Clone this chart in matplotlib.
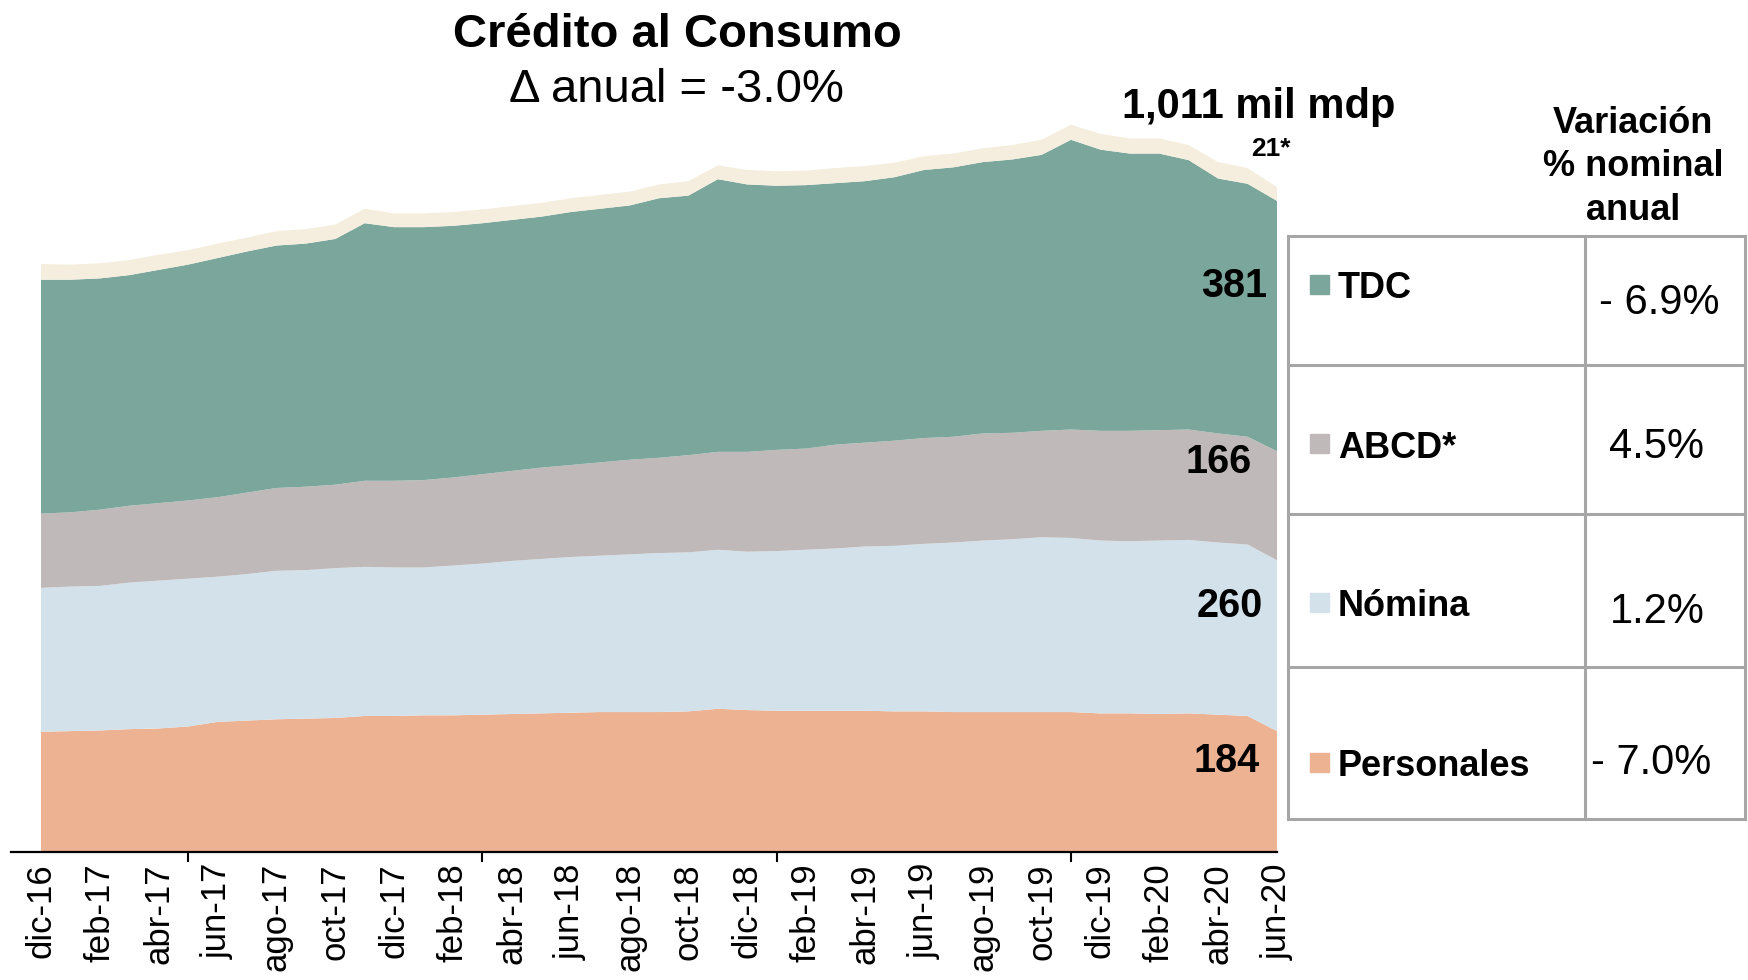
import matplotlib
matplotlib.use("Agg")
import matplotlib.pyplot as plt
from matplotlib.lines import Line2D
from matplotlib.patches import Rectangle

plt.rcParams["font.family"] = ["Liberation Sans", "DejaVu Sans"]

# meses dic-16 .. jun-20
meses_abr = ["ene", "feb", "mar", "abr", "may", "jun", "jul", "ago", "sep", "oct", "nov", "dic"]
etiquetas = ["dic-16"] + [f"{meses_abr[m]}-{a}" for a in (17, 18, 19) for m in range(12)] \
    + [f"{meses_abr[m]}-20" for m in range(6)]

# miles de millones de pesos
personales = [183, 184, 185, 187, 188, 191, 198, 200, 202, 203, 204, 207, 207, 208, 208, 209, 210, 211, 212, 213,
              213, 213, 214, 218, 216, 215, 215, 215, 215, 214, 214, 213, 213, 213, 213, 213, 211, 211, 210, 211,
              209, 207, 184]
nomina = [219, 220, 220, 223, 225, 225, 221, 223, 226, 226, 228, 227, 226, 225, 228, 230, 233, 235, 237, 238,
          240, 242, 242, 242, 241, 243, 245, 247, 250, 252, 255, 258, 261, 263, 266, 265, 263, 262, 264, 264,
          262, 261, 260]
abcd = [113, 113, 116, 117, 118, 119, 121, 124, 126, 127, 127, 131, 132, 133, 134, 136, 137, 139, 140, 142,
        144, 145, 148, 149, 152, 154, 154, 158, 158, 160, 161, 161, 163, 162, 162, 165, 167, 168, 168, 168,
        166, 164, 166]
tdc = [356, 354, 352, 351, 355, 359, 364, 367, 369, 370, 374, 392, 386, 385, 383, 382, 382, 382, 385, 386,
       387, 395, 395, 415, 407, 402, 401, 398, 398, 401, 408, 410, 413, 416, 420, 441, 428, 422, 421, 410,
       388, 385, 381]
otros = [24, 23, 23, 23, 23, 22, 22, 21, 22, 22, 22, 22, 21, 21, 21, 21, 21, 21, 21, 21,
         21, 21, 22, 21, 22, 22, 22, 23, 23, 22, 21, 21, 21, 22, 23, 23, 24, 23, 23, 23,
         25, 24, 21]

categorias = ["TDC", "ABCD*", "Nómina", "Personales"]
variacion = ["- 6.9%", "4.5%", "1.2%", "- 7.0%"]
colores = {"TDC": "#7BA69B", "ABCD*": "#BFB9B9", "Nómina": "#D3E1EB",
           "Personales": "#ECB292", "otros": "#F5EEDE"}

W, H = 1748, 980
DY = 4  # ajuste vertical del texto


def fx(x):
    return x / W


def fy(y):
    return 1 - y / H


def ft(y):
    return fy(y + DY)


fig = plt.figure(figsize=(W / 100, H / 100), dpi=100)
ax = fig.add_axes([fx(11), fy(852), (1277 - 11) / W, 755.6 / H])

x = list(range(len(etiquetas)))
ax.stackplot(x, personales, nomina, abcd, tdc, otros,
             colors=[colores["Personales"], colores["Nómina"], colores["ABCD*"],
                     colores["TDC"], colores["otros"]],
             linewidth=0)
ax.set_xlim(-1.02, len(x) - 1)
ax.set_ylim(0, 1150)

for s in ("left", "right", "top"):
    ax.spines[s].set_visible(False)
ax.spines["bottom"].set_linewidth(1.6)
ax.spines["bottom"].set_color("black")
ax.set_yticks([])

ax.set_xticks(x[::2])
ax.set_xticklabels(etiquetas[::2], rotation=90, fontsize=25)
ax.tick_params(axis="x", which="major", length=0, pad=8)
ax.set_xticks(x[::5], minor=True)
ax.tick_params(axis="x", which="minor", length=7, width=1.5, color="black")

# titulos
fig.text(fx(677), ft(31), "Crédito al Consumo", fontsize=34, fontweight="bold", ha="center", va="center")
fig.text(fx(676), ft(86), "Δ anual = -3.0%", fontsize=34, ha="center", va="center")
total = personales[-1] + nomina[-1] + abcd[-1] + tdc[-1] + otros[-1] - 1
fig.text(fx(1259), ft(103), f"{total:,} mil mdp", fontsize=30, fontweight="bold", ha="center", va="center")
fig.text(fx(1271), ft(145), f"{otros[-1]}*", fontsize=19, fontweight="bold", ha="center", va="center")

# valores finales
for val, xr, yc in [(tdc[-1], 1267, 282), (abcd[-1], 1252, 458),
                    (nomina[-1], 1263, 602), (personales[-1], 1260, 757)]:
    fig.text(fx(xr), ft(yc), str(val), fontsize=28.5, fontweight="bold", ha="right", va="center")

# tabla de variacion
for i, linea in enumerate(["Variación", "% nominal", "anual"]):
    fig.text(fx(1633), ft(119 + 44 * i), linea, fontsize=26, fontweight="bold", ha="center", va="center")

gris = "#A6A6A6"
filas = [236, 365, 514, 667, 819]
for yy in filas:
    fig.add_artist(Line2D([fx(1288), fx(1745)], [fy(yy), fy(yy)], color=gris, lw=2.2))
for xx in (1288, 1585, 1745):
    fig.add_artist(Line2D([fx(xx), fx(xx)], [fy(236), fy(819)], color=gris, lw=2.2))

etq_y = [285, 444, 603, 763]
val_y = [299, 443, 608, 759]
val_x = [1659, 1656, 1657, 1651]
for cat, v, ye, yv, xv in zip(categorias, variacion, etq_y, val_y, val_x):
    fig.add_artist(Rectangle((fx(1310), fy(ye + 9)), 19 / W, 19 / H, color=colores[cat],
                             transform=fig.transFigure))
    fig.text(fx(1338), ft(ye), cat, fontsize=26, fontweight="bold", ha="left", va="center")
    fig.text(fx(xv), ft(yv), v, fontsize=30, ha="center", va="center")

fig.savefig("out.png", dpi=100)
